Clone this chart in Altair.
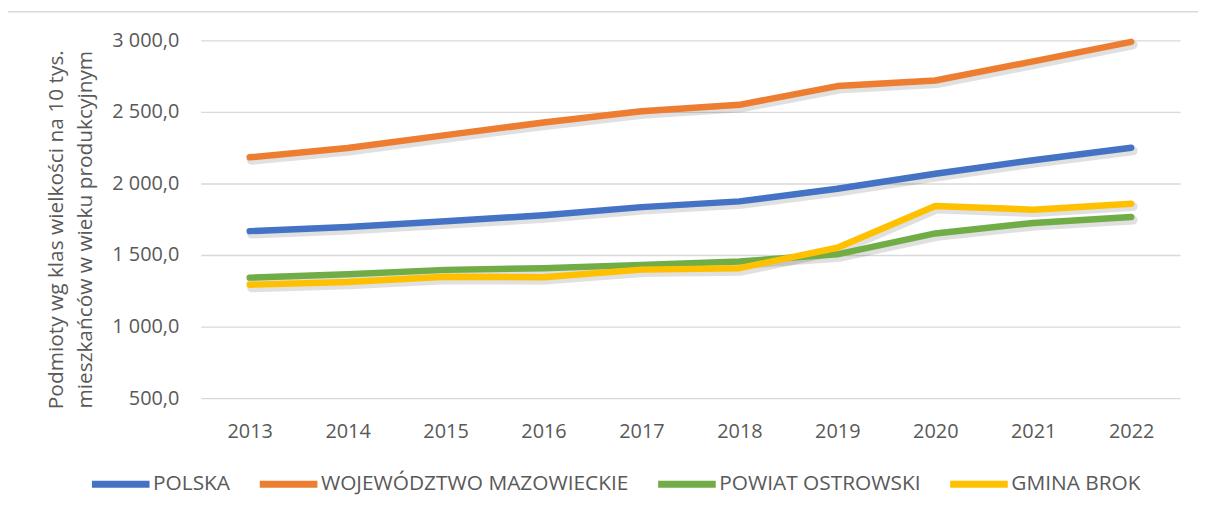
import altair as alt
import pandas as pd

years = ["2013", "2014", "2015", "2016", "2017", "2018", "2019", "2020", "2021", "2022"]
series_names = ["POLSKA", "WOJEWÓDZTWO MAZOWIECKIE", "POWIAT OSTROWSKI", "GMINA BROK"]
polska = [1667, 1696, 1736, 1778, 1835, 1875, 1963, 2068, 2163, 2250]
mazowieckie = [2183, 2248, 2338, 2426, 2505, 2550, 2681, 2720, 2854, 2990]
ostrowski = [1342, 1365, 1396, 1408, 1431, 1455, 1505, 1651, 1724, 1766]
brok = [1292, 1312, 1348, 1345, 1398, 1408, 1551, 1843, 1817, 1859]
colors = ["#4472C4", "#ED7D31", "#70AD47", "#FFC000"]
y_ticks = [500, 1000, 1500, 2000, 2500, 3000]

rows = []
for name, vals in zip(series_names, [polska, mazowieckie, ostrowski, brok]):
    for yr, v in zip(years, vals):
        rows.append({"rok": yr, "seria": name, "wartosc": v, "order": series_names.index(name)})
df = pd.DataFrame(rows)

FONT = "Open Sans"
GRAY = "#595959"

x_enc = alt.X("rok:O", scale=alt.Scale(type="point", padding=0.5),
              axis=alt.Axis(title=None, labelAngle=0, domain=False, ticks=False,
                            labelPadding=24, labelFontSize=20, labelColor=GRAY, labelFont=FONT))
y_enc = alt.Y("wartosc:Q", scale=alt.Scale(domain=[500, 3000], nice=False, zero=False),
              axis=alt.Axis(values=y_ticks, domain=False, ticks=False, labelPadding=22,
                            labelFontSize=20, labelColor=GRAY, labelFont=FONT,
                            labelExpr="replace(replace(format(datum.value, ',.1f'), ',', ' '), '.', ',')",
                            gridColor="#D9D9D9", gridWidth=1.3,
                            title=["Podmioty wg klas wielkości na 10 tys.", "mieszkańców w wieku produkcyjnym"],
                            titleFontSize=21, titleFont=FONT, titleColor=GRAY, titleFontWeight="normal",
                            titleLineHeight=30, titlePadding=16, titleY=190))

border = alt.Chart(pd.DataFrame({"a": [0]})).mark_rect(
    fill=None, stroke="#D9D9D9", strokeWidth=1.5, clip=False
).encode(x=alt.value(-195), x2=alt.value(1030), y=alt.value(-29), y2=alt.value(500))

shadow = alt.Chart(df).mark_line(
    strokeWidth=9, strokeCap="round", strokeJoin="round", color="#000000", opacity=0.12,
    xOffset=2, yOffset=3
).encode(x=x_enc, y=y_enc, detail="seria:N")

lines = alt.Chart(df).mark_line(
    strokeWidth=6.5, strokeCap="round", strokeJoin="round"
).encode(
    x=x_enc, y=y_enc,
    color=alt.Color("seria:N", sort=series_names,
                    scale=alt.Scale(domain=series_names, range=colors),
                    legend=alt.Legend(title=None, orient="none", direction="horizontal",
                                      legendX=-113, legendY=414,
                                      symbolType="stroke", symbolSize=3364, symbolStrokeWidth=7,
                                      labelFontSize=21, labelFont=FONT, labelColor=GRAY,
                                      labelLimit=0, labelOffset=0, columnPadding=15, columns=4)),
    order=alt.Order("order:Q")
)

chart = alt.layer(border, shadow, lines).properties(
    width=986, height=360,
    autosize=alt.AutoSizeParams(type="none"),
    padding={"left": 194, "top": 31, "right": 18, "bottom": 108},
).configure(font=FONT).configure_view(stroke=None)

chart.save("out.html", embed_options={"renderer": "svg", "actions": False})
